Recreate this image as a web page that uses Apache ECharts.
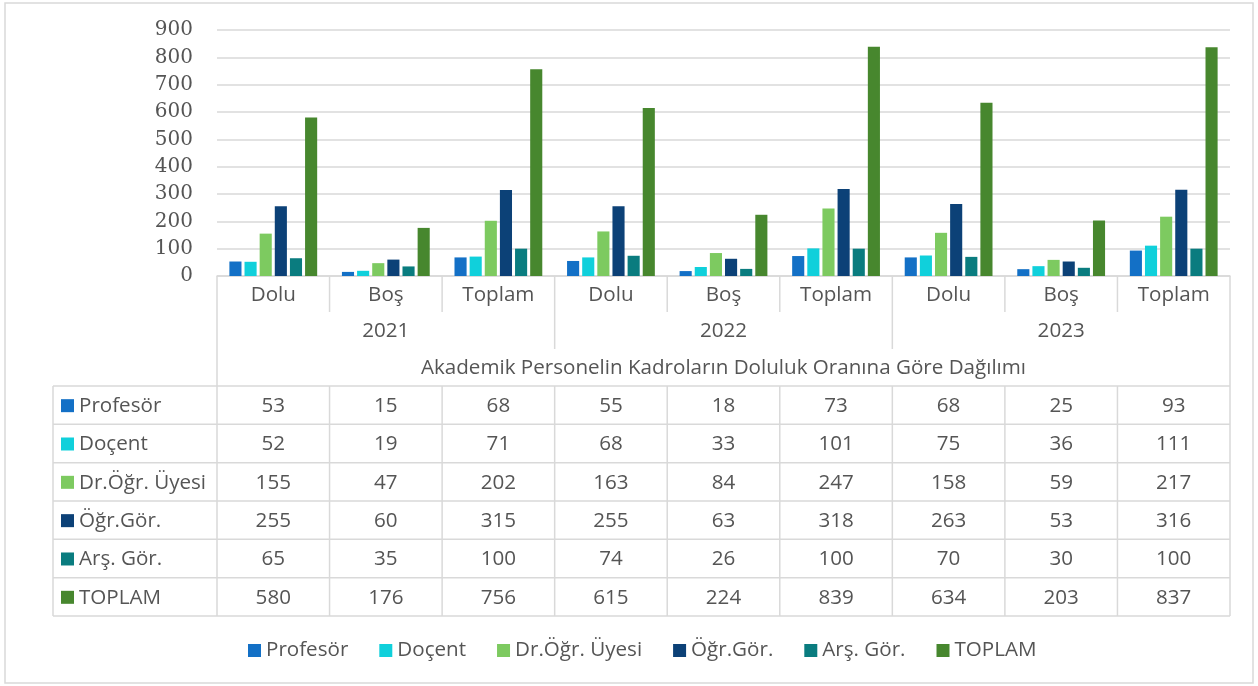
<!DOCTYPE html>
<html>
<head>
<meta charset="utf-8">
<script src="https://cdn.jsdelivr.net/npm/echarts@6/dist/echarts.min.js"></script>
<style>
html, body { margin: 0; padding: 0; background: #fff; }
#chart { width: 1258px; height: 686px; }
</style>
</head>
<body>
<div id="chart"></div>
<script>
// data
const categories = ['Dolu', 'Boş', 'Toplam', 'Dolu', 'Boş', 'Toplam', 'Dolu', 'Boş', 'Toplam'];
const years = ['2021', '2022', '2023'];
const groupTitle = 'Akademik Personelin Kadroların Doluluk Oranına Göre Dağılımı';
const seriesNames = ['Profesör', 'Doçent', 'Dr.Öğr. Üyesi', 'Öğr.Gör.', 'Arş. Gör.', 'TOPLAM'];
const profesor = [53, 15, 68, 55, 18, 73, 68, 25, 93];
const docent = [52, 19, 71, 68, 33, 101, 75, 36, 111];
const drOgrUyesi = [155, 47, 202, 163, 84, 247, 158, 59, 217];
const ogrGor = [255, 60, 315, 255, 63, 318, 263, 53, 316];
const arsGor = [65, 35, 100, 74, 26, 100, 70, 30, 100];
const toplam = [580, 176, 756, 615, 224, 839, 634, 203, 837];
const seriesData = [profesor, docent, drOgrUyesi, ogrGor, arsGor, toplam];
const colors = ['#1370c6', '#10d0db', '#7dca60', '#0c4177', '#0a7c7f', '#47872e'];

const chart = echarts.init(document.getElementById('chart'));

// layout of plot + table
const plotL = 217, plotR = 1230, plotT = 30, plotB = 276;
const colW = (plotR - plotL) / 9;
const catRowB = 312, yearRowB = 349, titleRowB = 386;
const rowH = 38.33, tableL = 53;
const gridColor = '#d9d9d9';
const textColor = '#555555';
const sansFont = '"Open Sans", sans-serif';
const fontPx = 20.6;

function line(x1, y1, x2, y2) {
    return { type: 'line', shape: { x1, y1, x2, y2 }, style: { stroke: gridColor, lineWidth: 1.5 }, silent: true };
}
function text(str, x, y, align) {
    return {
        type: 'text', x, y, silent: true,
        style: { text: str, fill: textColor, font: fontPx + 'px ' + sansFont, align: align || 'center', verticalAlign: 'middle' }
    };
}

const g = [];
// outer frame
g.push({ type: 'rect', shape: { x: 5, y: 3, width: 1248, height: 680 }, style: { fill: 'none', stroke: gridColor, lineWidth: 1.5 }, silent: true });

const tableB = titleRowB + rowH * 6;
// header lines
g.push(line(plotL, plotB, plotL, tableB));
g.push(line(plotR, plotB, plotR, tableB));
for (let k = 1; k < 9; k++) {
    const x = plotL + k * colW;
    g.push(line(x, plotB, x, k % 3 === 0 ? yearRowB : catRowB));
}
categories.forEach((c, i) => g.push(text(c, plotL + (i + 0.5) * colW, (plotB + catRowB) / 2 + 1)));
years.forEach((y, i) => g.push(text(y, plotL + (i * 3 + 1.5) * colW, (catRowB + yearRowB) / 2 + 1)));
g.push(text(groupTitle, (plotL + plotR) / 2, (yearRowB + titleRowB) / 2 + 1));

// data table
for (let r = 0; r <= 6; r++) {
    g.push(line(tableL, titleRowB + r * rowH, plotR, titleRowB + r * rowH));
}
g.push(line(tableL, titleRowB, tableL, tableB));
for (let k = 1; k < 9; k++) {
    const x = plotL + k * colW;
    g.push(line(x, titleRowB, x, tableB));
}
seriesNames.forEach((name, r) => {
    const cy = titleRowB + (r + 0.5) * rowH;
    g.push({ type: 'rect', shape: { x: 61, y: cy - 6, width: 13, height: 13 }, style: { fill: colors[r] }, silent: true });
    g.push(text(name, 79, cy + 1, 'left'));
    seriesData[r].forEach((v, i) => g.push(text(String(v), plotL + (i + 0.5) * colW, cy + 1)));
});

chart.setOption({
    animation: false,
    grid: { left: plotL, right: 1258 - plotR, top: plotT, bottom: 686 - plotB },
    legend: {
        bottom: 20,
        left: 243,
        itemWidth: 13,
        itemHeight: 13,
        itemGap: 31,
        icon: 'rect',
        textStyle: { color: textColor, fontSize: fontPx, fontFamily: sansFont },
        data: seriesNames
    },
    xAxis: {
        type: 'category',
        data: categories,
        axisLine: { lineStyle: { color: gridColor, width: 1.5 } },
        axisTick: { show: false },
        axisLabel: { show: false }
    },
    yAxis: {
        type: 'value',
        min: 0,
        max: 900,
        interval: 100,
        axisLine: { show: false },
        axisTick: { show: false },
        splitLine: { lineStyle: { color: gridColor, width: 1.5 } },
        axisLabel: { color: textColor, fontSize: 20, fontFamily: '"DejaVu Serif", serif', margin: 24 }
    },
    series: seriesNames.map((name, i) => ({
        name,
        type: 'bar',
        data: seriesData[i],
        itemStyle: { color: colors[i] },
        barGap: '25%',
        barCategoryGap: '22%'
    })),
    graphic: g
});
</script>
</body>
</html>
